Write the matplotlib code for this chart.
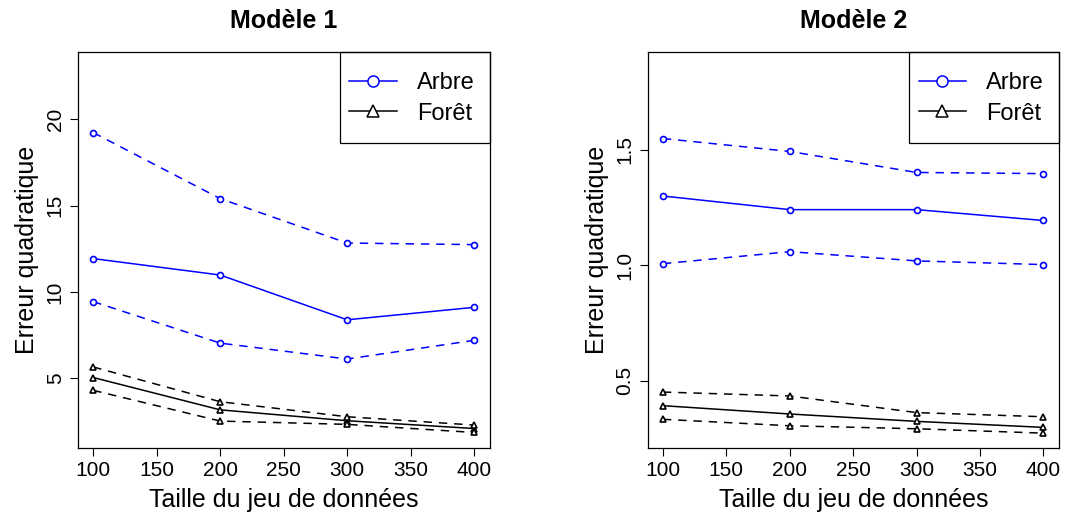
import matplotlib.pyplot as plt
from matplotlib.lines import Line2D
from matplotlib.patches import Rectangle

plt.rcParams["font.family"] = ["Liberation Sans", "DejaVu Sans"]

# Data
tailles = [100, 200, 300, 400]

# Modele 1
arbre1_moy = [11.93, 10.98, 8.39, 9.11]
arbre1_haut = [19.22, 15.40, 12.83, 12.74]
arbre1_bas = [9.44, 7.04, 6.12, 7.20]
foret1_moy = [5.05, 3.18, 2.55, 2.10]
foret1_haut = [5.66, 3.65, 2.78, 2.30]
foret1_bas = [4.31, 2.53, 2.34, 1.87]

# Modele 2
arbre2_moy = [1.300, 1.241, 1.241, 1.194]
arbre2_haut = [1.549, 1.493, 1.402, 1.397]
arbre2_bas = [1.007, 1.059, 1.019, 1.003]
foret2_moy = [0.392, 0.356, 0.324, 0.298]
foret2_haut = [0.451, 0.434, 0.362, 0.344]
foret2_bas = [0.333, 0.305, 0.292, 0.273]

x_ticks = [100, 150, 200, 250, 300, 350, 400]

panels = [
    {
        "titre": "Modèle 1",
        "series": [arbre1_moy, arbre1_haut, arbre1_bas, foret1_moy, foret1_haut, foret1_bas],
        "ylim": (0.99, 23.9),
        "yticks": [5, 10, 15, 20],
        "ylabels": ["5", "10", "15", "20"],
        "rect": [78 / 1066, 64.3 / 512, 412 / 1066, 396 / 512],
    },
    {
        "titre": "Modèle 2",
        "series": [arbre2_moy, arbre2_haut, arbre2_bas, foret2_moy, foret2_haut, foret2_bas],
        "ylim": (0.21, 1.925),
        "yticks": [0.5, 1.0, 1.5],
        "ylabels": ["0.5", "1.0", "1.5"],
        "rect": [647.7 / 1066, 64.3 / 512, 411.6 / 1066, 396 / 512],
    },
]

dash = (0, (5.5, 4.5))
styles = [
    ("blue", "o", "-"),
    ("blue", "o", dash),
    ("blue", "o", dash),
    ("black", "^", "-"),
    ("black", "^", dash),
    ("black", "^", dash),
]

fig = plt.figure(figsize=(10.66, 5.12), dpi=100)

for p in panels:
    ax = fig.add_axes(p["rect"])
    for serie, (col, mk, ls) in zip(p["series"], styles):
        ax.plot(
            tailles,
            serie,
            color=col,
            linestyle=ls,
            linewidth=1.1,
            marker=mk,
            markersize=4.3 if mk == "o" else 5,
            markerfacecolor="white",
            markeredgecolor=col,
            markeredgewidth=1.2,
        )

    ax.set_xlim(88, 412.5)
    ax.set_ylim(*p["ylim"])
    ax.set_xticks(x_ticks)
    ax.set_xticklabels([str(v) for v in x_ticks], fontsize=15)
    ax.set_yticks(p["yticks"])
    ax.set_yticklabels(p["ylabels"], fontsize=15, rotation=90, va="center")
    ax.tick_params(direction="out", length=5.5, width=0.8, color="black", pad=4)
    for s in ax.spines.values():
        s.set_linewidth(0.9)
        s.set_color("black")

    ax.set_xlabel("Taille du jeu de données", fontsize=18, labelpad=6)
    ax.set_ylabel("Erreur quadratique", fontsize=18, labelpad=5)
    ax.set_title(p["titre"], fontsize=18, fontweight="bold", pad=17)

    # R-style legend: plain box in the top right corner
    ax.add_patch(
        Rectangle(
            (0.636, 0.769), 0.364, 0.231,
            transform=ax.transAxes, fill=False, edgecolor="black",
            linewidth=0.9, clip_on=False, zorder=5,
        )
    )
    handles = [
        Line2D([], [], color="blue", marker="o", markersize=8,
               markerfacecolor="white", markeredgewidth=1.1, linewidth=1.1),
        Line2D([], [], color="black", marker="^", markersize=9,
               markerfacecolor="white", markeredgewidth=1.1, linewidth=1.1),
    ]
    ax.legend(
        handles,
        ["Arbre", "Forêt"],
        loc="upper left",
        bbox_to_anchor=(0.61, 1.0),
        frameon=False,
        fontsize=17,
        borderpad=0.85,
        borderaxespad=0,
        handlelength=2.0,
        handletextpad=0.85,
        labelspacing=0.38,
    )

fig.savefig("out.png", dpi=100)
